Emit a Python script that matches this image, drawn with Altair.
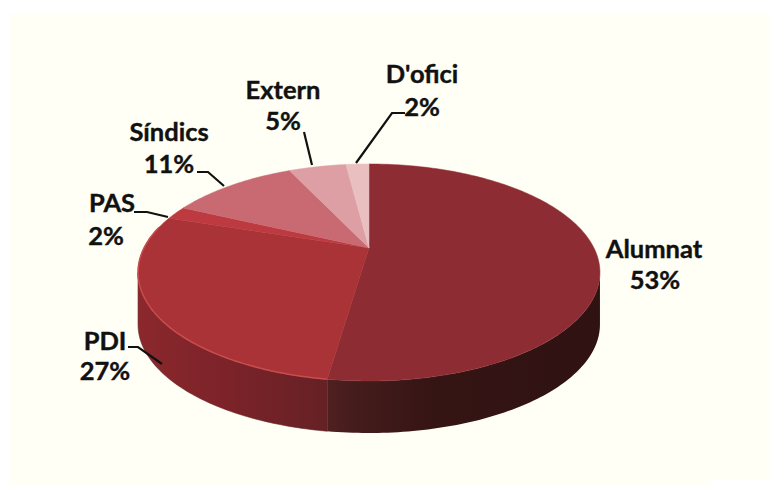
import math
import altair as alt

# Data
names = ["Alumnat", "PDI", "PAS", "Síndics", "Extern", "D'ofici"]
labels = ["53%", "27%", "2%", "11%", "5%", "2%"]
shares = [52.3, 27.7, 2, 11, 5, 2]
top_colors = ["#8e2c33", "#a93336", "#bd3a40", "#c96a72", "#dd9fa3", "#e9bfc0"]
name_pos = [(654, 250), (105, 342), (112, 204), (169, 133), (283, 91), (422, 75)]
pct_pos = [(655, 281), (105, 372), (106, 237), (169, 165), (283, 122), (422, 108)]
leaders = [
    [(128, 347), (138, 347), (162, 364)],
    [(134, 212), (147, 212), (168, 217)],
    [(197, 172), (208, 172), (224, 186)],
    [(304, 132), (312, 165)],
    [(356, 163), (392, 113), (405, 113)],
]

# Page layout of the tilted disc
APEX = (369, 248)
SX, SY, K, DEPTH = 225, 103, 0.2256, 52
FONT = "Lato"


def rim(theta_deg, dy=0):
    t = math.radians(theta_deg)
    u, v = math.sin(t), -math.cos(t)
    w = 1 - K * v
    return [APEX[0] + SX * u / w, APEX[1] + SY * v / w + dy]


def arc(a, b, dy=0, step=1.0):
    n = max(2, int(abs(b - a) / step))
    return [rim(a + (b - a) * i / n, dy) for i in range(n + 1)]


def poly(points):
    return {"type": "Feature", "properties": {},
            "geometry": {"type": "Polygon", "coordinates": [points + [points[0]]]}}


def line(points):
    return {"type": "Feature", "properties": {},
            "geometry": {"type": "LineString", "coordinates": [list(p) for p in points]}}


PROJ = dict(type="identity", scale=1, translate=[-8, -8])


def shape(feature, **mark):
    return alt.Chart(alt.Data(values=[feature])).mark_geoshape(**mark).project(**PROJ)


def grad(stops):
    return alt.Gradient(
        gradient="linear", x1=0, y1=0, x2=1, y2=0,
        stops=[alt.GradientStop(offset=o, color=c) for o, c in stops],
    )


layers = []

# Off-white panel
panel = [[10, 13], [778, 13], [778, 480], [710, 480], [710, 493], [10, 493]]
layers.append(shape(poly(panel), fill="#fffff5", stroke="#fffff5", strokeWidth=0))

# Outer wall
edge = math.degrees(math.acos(-K))
split = shares[0] * 3.6
wall_a = arc(edge, split) + arc(split, edge, DEPTH)
wall_b = arc(split, 360 - edge) + arc(360 - edge, split, DEPTH)
layers.append(shape(poly(wall_b), stroke="#652125", strokeWidth=0.6, fill=grad(
    [(0, "#8b282d"), (0.45, "#7c2329"), (1, "#652125")])))
layers.append(shape(poly(wall_a), strokeWidth=0, fill=grad(
    [(0, "#502020"), (0.1, "#451c1c"), (0.4, "#351414"), (1, "#301212")])))

# Top face
start = 0.0
for share, color in zip(shares, top_colors):
    end = start + share * 3.6
    pts = [list(APEX)] + arc(start, end)
    layers.append(shape(poly(pts), fill=color, stroke=color, strokeWidth=0.5))
    start = end

# Light rim on the PDI edge
layers.append(shape(line(arc(split, 282)), filled=False, stroke="#c84c50", strokeWidth=1.5))

# Leader lines
for pts in leaders:
    layers.append(shape(line(pts), filled=False, stroke="#111111", strokeWidth=2.2))

# Labels
rows = []
for name, label, np_, pp in zip(names, labels, name_pos, pct_pos):
    rows.append({"t": name, "lon": np_[0], "lat": np_[1]})
    rows.append({"t": label, "lon": pp[0], "lat": pp[1]})
layers.append(
    alt.Chart(alt.Data(values=rows))
    .mark_text(font=FONT, fontSize=25.5, fontWeight="bold", color="#111111", stroke="#111111",
               strokeWidth=0.4, align="center", baseline="middle")
    .encode(longitude="lon:Q", latitude="lat:Q", text="t:N")
    .project(**PROJ)
)

chart = alt.layer(*layers).properties(
    width=762, height=477, padding=0, autosize=alt.AutoSizeParams(type="none"), background="white"
).configure_view(stroke=None)

chart.save("out.html", embed_options={"renderer": "svg", "actions": False})
